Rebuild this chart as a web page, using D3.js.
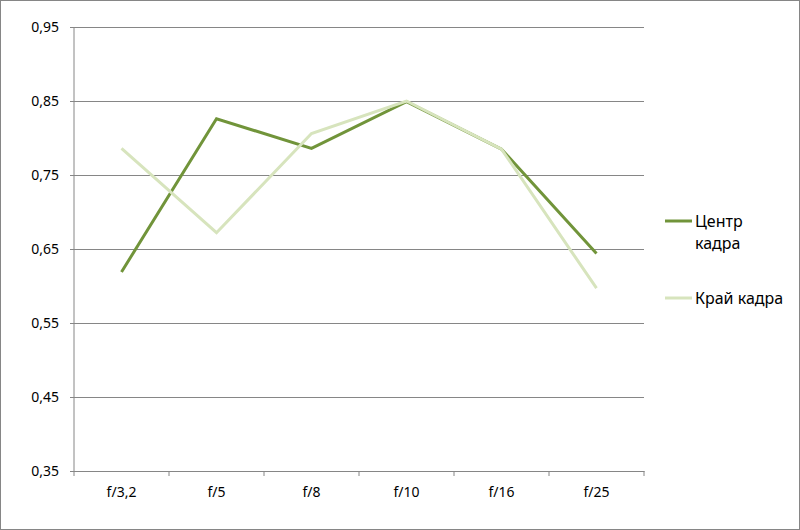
<!DOCTYPE html>
<meta charset="utf-8">
<script src="https://d3js.org/d3.v7.min.js"></script>
<style>
  body { margin: 0; background: #fff; }
  text { font-family: "Noto Sans", "Open Sans", sans-serif; fill: #000; }
</style>
<div id="my_dataviz"></div>
<script>

// data
var categories = ["f/3,2", "f/5", "f/8", "f/10", "f/16", "f/25"];
var centerValues = [0.619, 0.826, 0.786, 0.849, 0.785, 0.644];
var edgeValues = [0.786, 0.672, 0.806, 0.850, 0.785, 0.597];
var seriesNames = ["Центр кадра", "Край кадра"];
var yTicks = [0.35, 0.45, 0.55, 0.65, 0.75, 0.85, 0.95];

var W = 800, H = 530;
var margin = {top: 27, right: 156, bottom: 59, left: 74};

var svg = d3.select("#my_dataviz")
  .append("svg")
    .attr("width", W)
    .attr("height", H);

// chart frame
svg.append("rect")
  .attr("x", 0.5).attr("y", 0.5)
  .attr("width", W - 1).attr("height", H - 1)
  .attr("fill", "#fff")
  .attr("stroke", "#868686");

var x = d3.scaleBand()
  .domain(categories)
  .range([margin.left, W - margin.right]);

var y = d3.scaleLinear()
  .domain([0.35, 0.95])
  .range([H - margin.bottom, margin.top]);

var fmt = function(d) { return d3.format(".2f")(d).replace(".", ","); };

// gridlines + Y axis
var yAxis = svg.append("g")
  .attr("transform", "translate(" + margin.left + ",0)")
  .call(d3.axisLeft(y).tickValues(yTicks).tickFormat(fmt)
    .tickSize(-(W - margin.right - margin.left)).tickPadding(15));
yAxis.attr("font-size", 14).attr("font-family", null);
yAxis.select(".domain").remove();
yAxis.selectAll("line").attr("stroke", "#868686").attr("x1", -4);

svg.append("line")
  .attr("x1", margin.left).attr("x2", margin.left)
  .attr("y1", margin.top).attr("y2", H - margin.bottom)
  .attr("stroke", "#868686");

// X axis, ticks between categories
var xAxis = svg.append("g")
  .attr("transform", "translate(0," + (H - margin.bottom) + ")")
  .call(d3.axisBottom(x).tickSize(0).tickPadding(16));
xAxis.attr("font-size", 14).attr("font-family", null);
xAxis.select(".domain").attr("stroke", "#868686");
svg.append("g").selectAll("line")
  .data(categories.concat(["end"]))
  .enter().append("line")
    .attr("x1", function(d, i) { return margin.left + i * x.bandwidth(); })
    .attr("x2", function(d, i) { return margin.left + i * x.bandwidth(); })
    .attr("y1", H - margin.bottom)
    .attr("y2", H - margin.bottom + 5)
    .attr("stroke", "#868686");

var line = d3.line()
  .x(function(d, i) { return x(categories[i]) + x.bandwidth() / 2; })
  .y(function(d) { return y(d); });

var colors = ["#71943a", "#d7e4bd"];

svg.append("path")
  .datum(centerValues)
  .attr("fill", "none")
  .attr("stroke", colors[0])
  .attr("stroke-width", 3)
  .attr("d", line);

svg.append("path")
  .datum(edgeValues)
  .attr("fill", "none")
  .attr("stroke", colors[1])
  .attr("stroke-width", 3)
  .attr("d", line);

// legend
var legend = svg.append("g");
var legY = [221, 298];
legend.selectAll("line")
  .data(seriesNames)
  .enter().append("line")
    .attr("x1", 665).attr("x2", 692)
    .attr("y1", function(d, i) { return legY[i]; })
    .attr("y2", function(d, i) { return legY[i]; })
    .attr("stroke", function(d, i) { return colors[i]; })
    .attr("stroke-width", 3);

legend.append("text")
  .attr("x", 695).attr("y", 227)
  .attr("font-size", 16)
  .call(function(t) {
    t.append("tspan").attr("x", 695).text("Центр");
    t.append("tspan").attr("x", 695).attr("dy", 22).text("кадра");
  });

legend.append("text")
  .attr("x", 695).attr("y", 304)
  .attr("font-size", 16)
  .text(seriesNames[1]);

</script>
